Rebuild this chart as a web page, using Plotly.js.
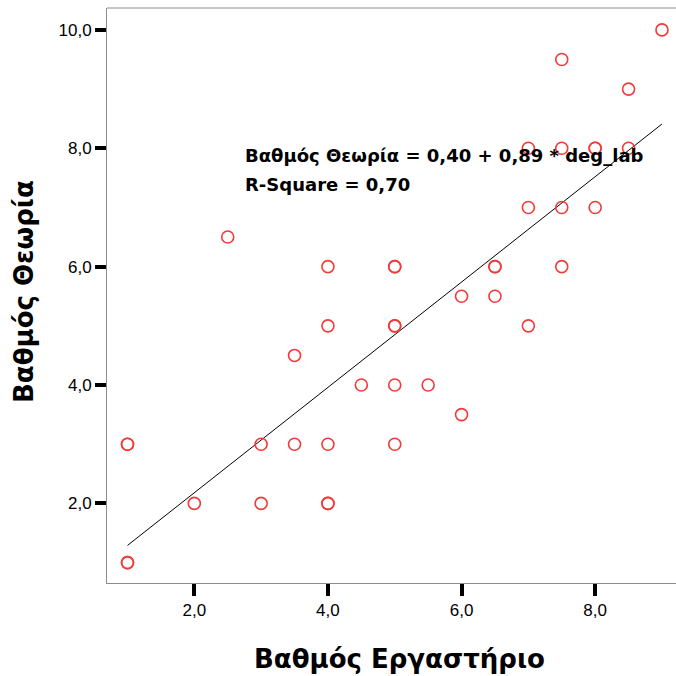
<!DOCTYPE html>
<html>
<head>
<meta charset="utf-8">
<script src="https://cdn.plot.ly/plotly-3.0.1.min.js"></script>
<style>html,body{margin:0;padding:0;background:#fff;}#chart{width:676px;height:676px;}</style>
</head>
<body>
<div id="chart"></div>
<script>
// Observed points (Βαθμός Εργαστήριο, Βαθμός Θεωρία); repeated pairs appear as bolder circles
const labGrade = [1, 1, 1, 1, 2, 2.5, 3, 3, 3.5, 3.5, 4, 4, 4, 4, 4, 4.5, 5, 5, 5, 5, 5, 5, 5.5, 6, 6, 6.5, 6.5, 6.5, 7, 7, 7, 7.5, 7.5, 7.5, 7.5, 8, 8, 8, 8.5, 8.5, 9];
const theoryGrade = [3, 3, 1, 1, 2, 6.5, 3, 2, 4.5, 3, 6, 5, 3, 2, 2, 4, 6, 6, 5, 5, 4, 3, 4, 5.5, 3.5, 6, 6, 5.5, 8, 7, 5, 9.5, 8, 7, 6, 8, 8, 7, 9, 8, 10];
// Fitted line endpoints
const fitX = [1, 9];
const fitY = [1.29, 8.41];
const xTicks = [2, 4, 6, 8];
const yTicks = [2, 4, 6, 8, 10];
const eqText = 'Βαθμός Θεωρία = 0,40 + 0,89 * deg_lab';
const r2Text = 'R-Square = 0,70';

const font = 'Liberation Sans, Arial, sans-serif';
const boldFont = 'DejaVu Sans, Liberation Sans, sans-serif';
const traces = [
  {x: fitX, y: fitY, type: 'scatter', mode: 'lines', line: {color: '#000', width: 1}, hoverinfo: 'skip'},
  {x: labGrade, y: theoryGrade, type: 'scatter', mode: 'markers',
   marker: {symbol: 'circle-open', size: 12, color: 'rgb(242,58,58)', line: {width: 1.6, color: 'rgb(242,58,58)'}}}
];
const layout = {
  width: 676, height: 676,
  margin: {l: 107, r: 0, t: 8, b: 93},
  paper_bgcolor: '#fff', plot_bgcolor: '#fff',
  showlegend: false,
  separators: ',.',
  font: {family: font, color: '#000'},
  xaxis: {range: [0.693, 9.21], tickvals: xTicks, tickformat: '.1f', showgrid: false, zeroline: false,
          showline: true, linecolor: '#8c8c8c', linewidth: 1,
          ticks: 'outside', ticklen: 12, tickwidth: 4, tickcolor: '#000',
          tickfont: {size: 17, family: font, color: '#000'}},
  yaxis: {range: [0.655, 10.37], tickvals: yTicks, tickformat: '.1f', showgrid: false, zeroline: false,
          showline: true, linecolor: '#8c8c8c', linewidth: 1,
          ticks: 'outside', ticklen: 11, tickwidth: 4, tickcolor: '#000',
          tickfont: {size: 17, family: font, color: '#000'}},
  shapes: [{type: 'line', xref: 'paper', yref: 'paper', x0: 0, x1: 1, y0: 1, y1: 1, line: {color: '#8c8c8c', width: 1}}],
  annotations: [
    {text: '<b>' + eqText + '</b>', xref: 'paper', yref: 'paper', x: (243 - 107) / 569, y: (583 - 155) / 575,
     xanchor: 'left', yanchor: 'middle', showarrow: false, font: {size: 18, family: boldFont, color: '#000'}},
    {text: '<b>' + r2Text + '</b>', xref: 'paper', yref: 'paper', x: (243 - 107) / 569, y: (583 - 184) / 575,
     xanchor: 'left', yanchor: 'middle', showarrow: false, font: {size: 18, family: boldFont, color: '#000'}},
    {text: '<b>Βαθμός Εργαστήριο</b>', xref: 'paper', yref: 'paper', x: (399 - 107) / 569, y: (583 - 659) / 575,
     xanchor: 'center', yanchor: 'middle', showarrow: false, font: {size: 26, family: boldFont, color: '#000'}},
    {text: '<b>Βαθμός Θεωρία</b>', xref: 'paper', yref: 'paper', x: (24 - 107) / 569, y: (583 - 292) / 575,
     xanchor: 'center', yanchor: 'middle', textangle: -90, showarrow: false, font: {size: 26, family: boldFont, color: '#000'}}
  ]
};
Plotly.newPlot('chart', traces, layout, {displayModeBar: false, staticPlot: true});
</script>
</body>
</html>
